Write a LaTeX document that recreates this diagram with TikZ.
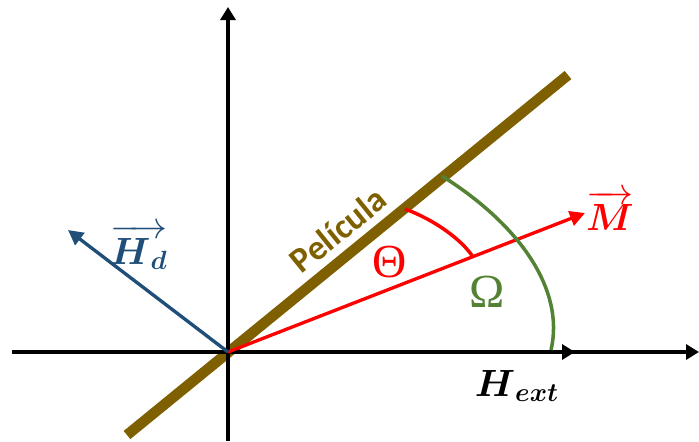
\documentclass[tikz,border=0pt]{standalone}
\usepackage{amsmath, amssymb}
\usepackage{fontspec}
\newfontfamily\calfont{Carlito}
\newfontfamily\greekfont{Liberation Serif}
\usepackage{tikz}
\usetikzlibrary{calc, arrows.meta}
\usepackage{tkz-euclide}
\definecolor{filmbrown}{HTML}{7F6000}
\definecolor{hdblue}{HTML}{1F4E79}
\definecolor{omgreen}{HTML}{548235}
\tikzset{
  axisline/.style={black, line width=2.6pt, -{Triangle[length=0.26cm,width=0.3cm]}},
  vecline/.style={line width=1.9pt, -{Triangle[length=0.3cm,width=0.3cm]}},
  anglearc/.style={line width=2pt},
  biglabel/.style={font=\fontsize{17}{20}\selectfont, scale=1.25},
  greeklabel/.style={font=\greekfont\fontsize{27}{30}\selectfont}
}

\begin{document}
\begin{tikzpicture}
      \useasboundingbox (-4.56,-1.78) rectangle (9.42,7.04);
      % 1. origin, axes and H_ext
      \tkzDefPoint(0,0){O}
      \tkzDefPoint(-4.32,0){L}
      \tkzDefPoint(9.42,0){R}
      \tkzDefPoint(6.94,0){Hext}
      \tkzDefPoint(0,-1.78){B}
      \tkzDefPoint(0,6.9){T}

      % 2. the film (Película)
      \tkzDefPoint(-2.02,-1.66){F1}
      \tkzDefPoint(6.8,5.54){F2}

      % 3. vectors M and H_d
      \tkzDefPoint(7.14,2.78){M}
      \tkzDefPoint(-3.2,2.44){Hd}

      % 4. ends of the angle arcs
      \tkzDefPoint(3.54,2.86){T1}
      \tkzDefPoint(4.9,1.9){T2}
      \tkzDefPoint(4.28,3.52){W1}
      \tkzDefPoint(6.46,0.04){W2}

      % 5. draw the film, then the axes
      \draw[filmbrown, line width=6pt] (F1) -- (F2);
      \draw[axisline] (L) -- (R);
      \draw[axisline] (O) -- (Hext);
      \draw[axisline] (B) -- (T);

      % 6. vectors
      \draw[vecline, red] (O) -- (M);
      \draw[vecline, hdblue] (O) -- (Hd);

      % 7. arcs Theta and Omega
      \draw[anglearc, red] (T1) .. controls (4.14,2.64) and (4.68,2.24) .. (T2);
      \draw[anglearc, omgreen] (W1) .. controls (5.84,2.54) and (6.74,1.24) .. (W2);

      % 8. labels
      \node[text=filmbrown, rotate=39, font=\calfont\bfseries\fontsize{20}{22}\selectfont] (lFilm) at (2.2,2.44) {Película};
      \node[biglabel, text=red] (lM) at (7.64,2.82) {$\overrightarrow{\boldsymbol{M}}$};
      \node[biglabel, text=hdblue] (lHd) at (-1.78,2.1) {$\overrightarrow{\boldsymbol{H}_{\boldsymbol{d}}}$};
      \node[biglabel, text=black] (lHext) at (5.78,-0.68) {$\boldsymbol{H}_{\boldsymbol{ext}}$};
      \node[greeklabel, text=red] (lTheta) at (3.24,1.8) {Θ};
      \node[greeklabel, text=omgreen] (lOmega) at (5.18,1.2) {Ω};
\end{tikzpicture}
\end{document}
